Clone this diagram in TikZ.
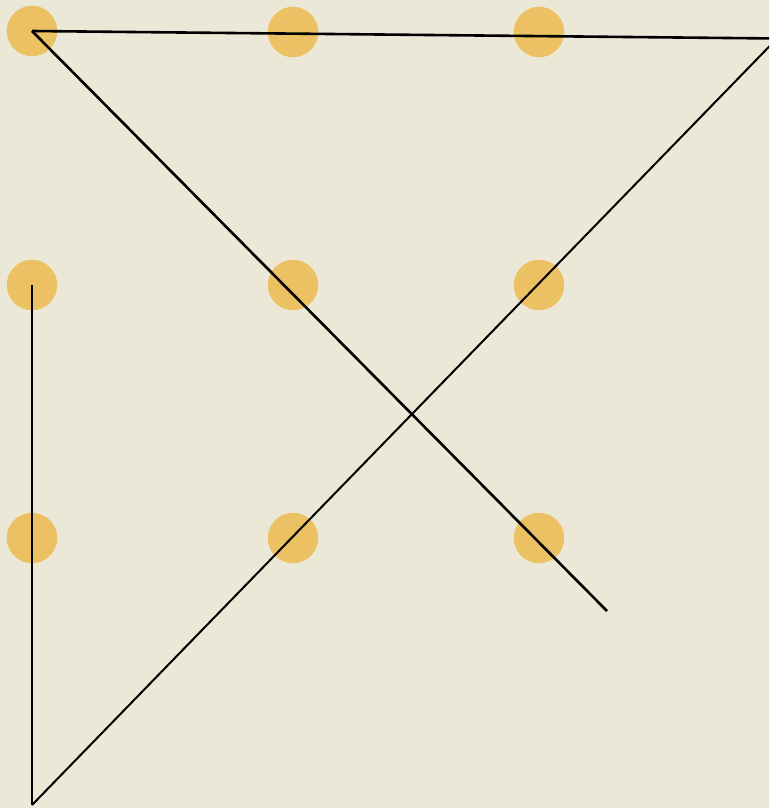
\documentclass[tikz,border=0pt]{standalone}
\definecolor{bg}{HTML}{EBE8D7}
\definecolor{dotc}{HTML}{ECC163}
\tikzset{
  dotnode/.style={circle,fill=dotc,inner sep=0pt,minimum size=50.5pt,draw=none},
  pen/.style={line width=2.6pt,black,line join=miter},
  thinpen/.style={line width=2pt,black}
}
\begin{document}
\begin{tikzpicture}[x=1pt,y=-1pt]
\fill[bg] (0,0) rectangle (769,808);
\useasboundingbox (0,0) rectangle (769,808);
\clip (0,0) rectangle (769,808);
\node[dotnode] (d11) at (32,31) {};
\node[dotnode] (d12) at (293,32) {};
\node[dotnode] (d13) at (539,32) {};
\node[dotnode] (d21) at (32,285) {};
\node[dotnode] (d22) at (293,285) {};
\node[dotnode] (d23) at (539,285) {};
\node[dotnode] (d31) at (32,538) {};
\node[dotnode] (d32) at (293,538) {};
\node[dotnode] (d33) at (539,538) {};
\coordinate (c1) at (777,38.5);
\coordinate (c2) at (32,805);
\coordinate (c3) at (607,611);
\draw[pen] (d11.center) -- (c1);
\draw[thinpen] (c1) -- (c2);
\draw[pen] (c2) -- (d21.center);
\draw[pen] (d11.center) -- (c3);
\end{tikzpicture}
\end{document}
